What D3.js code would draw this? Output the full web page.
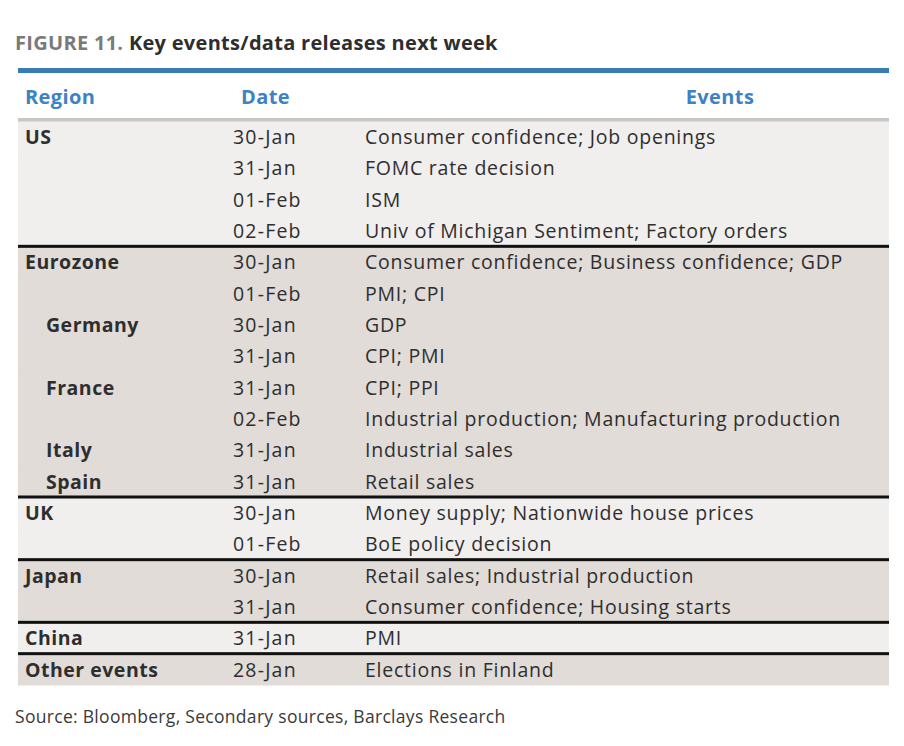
<!DOCTYPE html>
<html><head><meta charset="utf-8">
<script src="https://cdn.jsdelivr.net/npm/d3@7"></script>
<style>body{margin:0;background:#fff;} svg{display:block;}</style>
</head><body>
<svg id="c" width="904" height="746"></svg>
<script>
// Data
const titlePrefix = "FIGURE 11.";
const titleText = "Key events/data releases next week";
const headers = ["Region", "Date", "Events"];
const groups = ["US", "Eurozone", "UK", "Japan", "China", "Other events"];
const rowGroup = [0,0,0,0, 1,1,1,1,1,1,1,1, 2,2, 3,3, 4, 5];
const rowLabel = ["US","","","", "Eurozone","","Germany","","France","","Italy","Spain", "UK","", "Japan","", "China", "Other events"];
const rowSub = [0,0,0,0, 0,0,1,1,1,1,1,1, 0,0, 0,0, 0, 0];
const rowDate = ["30-Jan","31-Jan","01-Feb","02-Feb",
  "30-Jan","01-Feb","30-Jan","31-Jan","31-Jan","02-Feb","31-Jan","31-Jan",
  "30-Jan","01-Feb","30-Jan","31-Jan","31-Jan","28-Jan"];
const rowEvent = ["Consumer confidence; Job openings","FOMC rate decision","ISM","Univ of Michigan Sentiment; Factory orders",
  "Consumer confidence; Business confidence; GDP","PMI; CPI","GDP","CPI; PMI","CPI; PPI","Industrial production; Manufacturing production","Industrial sales","Retail sales",
  "Money supply; Nationwide house prices","BoE policy decision",
  "Retail sales; Industrial production","Consumer confidence; Housing starts",
  "PMI","Elections in Finland"];
const sourceText = "Source: Bloomberg, Secondary sources, Barclays Research";

const svg = d3.select("#c");
const font = "'Open Sans', sans-serif";
const left = 18, right = 889;
const top0 = 121, bottom0 = 685;
const ink = "#2e2e2e";

// Title
const t = svg.append("text").attr("x", 15).attr("y", 50)
  .attr("font-family", font).attr("font-weight", "bold").attr("font-size", 20).attr("letter-spacing", 0.3);
t.append("tspan").attr("fill", "#7a7a7a").text(titlePrefix + " ");
t.append("tspan").attr("fill", ink).text(titleText);

// blue top bar
svg.append("rect").attr("x", left).attr("y", 68).attr("width", right-left).attr("height", 5).attr("fill", "#3a7bb4");

// headers
const hx = [25, 241, 720];
const ha = ["start", "start", "middle"];
svg.selectAll("text.hdr").data(headers).join("text").attr("class","hdr")
  .attr("x", (d,i)=>hx[i]).attr("y", 104).attr("text-anchor",(d,i)=>ha[i])
  .attr("font-family", font).attr("font-weight","bold").attr("font-size", 20).attr("letter-spacing", 0.4)
  .attr("fill", "#3d82c4").text(d=>d);

// rows
const y = d3.scaleBand().domain(d3.range(rowDate.length)).range([top0, bottom0]);
const fills = ["#f1efee", "#e1dcd8"];
svg.selectAll("rect.row").data(rowDate).join("rect").attr("class","row")
  .attr("x", left).attr("y", (d,i)=>y(i)).attr("width", right-left).attr("height", y.bandwidth()+0.5)
  .attr("fill", (d,i)=>fills[rowGroup[i]%2]);

// header grey rule
svg.append("rect").attr("x", left).attr("y", 118).attr("width", right-left).attr("height", 3.5).attr("fill", "#c9c7c6");

// group separators
const sepIdx = d3.range(1, rowDate.length).filter(i => rowGroup[i] !== rowGroup[i-1]);
svg.selectAll("rect.sep").data(sepIdx).join("rect").attr("class","sep")
  .attr("x", left).attr("y", i=>y(i)-1.5).attr("width", right-left).attr("height", 3).attr("fill", "#111");

const base = i => y(i) + y.bandwidth()/2 + 7.3;
svg.selectAll("text.reg").data(rowLabel).join("text").attr("class","reg")
  .attr("x", (d,i)=> rowSub[i] ? 46 : 25).attr("y",(d,i)=>base(i))
  .attr("font-family", font).attr("font-weight","bold").attr("font-size", 19.5).attr("letter-spacing", 0.5)
  .attr("fill", ink).text(d=>d);
svg.selectAll("text.date").data(rowDate).join("text").attr("class","date")
  .attr("x", 233).attr("y",(d,i)=>base(i))
  .attr("font-family", font).attr("font-size", 19.5).attr("letter-spacing", 1.2).attr("fill", ink).text(d=>d);
svg.selectAll("text.ev").data(rowEvent).join("text").attr("class","ev")
  .attr("x", 365).attr("y",(d,i)=>base(i))
  .attr("font-family", font).attr("font-size", 19.5).attr("letter-spacing", 0.75).attr("fill", ink).text(d=>d);

// source
svg.append("text").attr("x", 15).attr("y", 723).attr("font-family", font).attr("font-size", 17.5)
  .attr("letter-spacing", 0.3).attr("fill", "#3a3a3a").text(sourceText);
</script>
</body></html>
